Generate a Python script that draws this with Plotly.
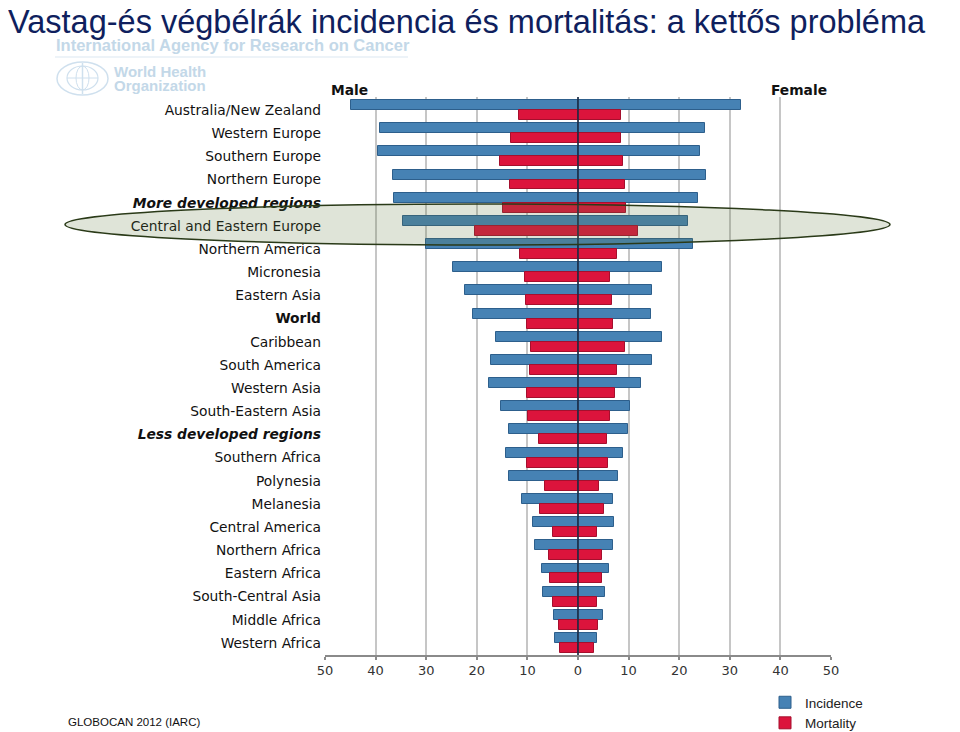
import plotly.graph_objects as go

# ---------------- data ----------------
categories = ["Australia/New Zealand", "Western Europe", "Southern Europe", "Northern Europe",
              "More developed regions", "Central and Eastern Europe", "Northern America",
              "Micronesia", "Eastern Asia", "World", "Caribbean", "South America",
              "Western Asia", "South-Eastern Asia", "Less developed regions", "Southern Africa",
              "Polynesia", "Melanesia", "Central America", "Northern Africa", "Eastern Africa",
              "South-Central Asia", "Middle Africa", "Western Africa"]
male_incidence = [44.9, 39.1, 39.6, 36.5, 36.3, 34.6, 30.0, 24.8, 22.4, 20.7, 16.3, 17.2,
                  17.6, 15.3, 13.7, 14.2, 13.7, 11.1, 8.8, 8.5, 7.2, 7.0, 4.8, 4.6]
female_incidence = [32.2, 25.1, 24.2, 25.3, 23.8, 21.8, 22.7, 16.6, 14.6, 14.4, 16.6, 14.6,
                    12.5, 10.3, 9.9, 8.8, 7.9, 7.0, 7.2, 7.0, 6.1, 5.3, 4.9, 3.8]
male_mortality = [11.7, 13.3, 15.4, 13.5, 14.8, 20.3, 11.4, 10.5, 10.3, 10.0, 9.2, 9.4,
                  10.1, 9.9, 7.8, 10.0, 6.5, 7.6, 5.0, 5.7, 5.5, 5.0, 3.8, 3.6]
female_mortality = [8.5, 8.4, 8.8, 9.2, 9.5, 11.9, 7.8, 6.4, 6.8, 7.0, 9.2, 7.7,
                    7.3, 6.4, 5.7, 5.9, 4.2, 5.1, 3.8, 4.7, 4.7, 3.8, 4.0, 3.2]
bold_italic = ["More developed regions", "Less developed regions"]
bold_only = ["World"]
x_tick_values = [-50, -40, -30, -20, -10, 0, 10, 20, 30, 40, 50]
x_tick_labels = ["50", "40", "30", "20", "10", "0", "10", "20", "30", "40", "50"]

title_text = "Vastag-és végbélrák incidencia és mortalitás: a kettős probléma"

# ---------------- layout geometry (pixels of the 960x732 page) ----------------
OFF = 8                      # default page body margin
PAGE_W, PAGE_H = 960, 732
W, H = PAGE_W - OFF, PAGE_H - OFF
PL, PR, PT, PB = 325, 831, 97, 655   # plot area in page pixels


def px(x):
    return (x - PL) / (PR - PL)


def py(y):
    return (PB - y) / (PB - PT)


idx = list(range(len(categories)))
ticktext = []
for c in categories:
    if c in bold_italic:
        ticktext.append("<b><i>" + c + "</i></b>")
    elif c in bold_only:
        ticktext.append("<b>" + c + "</b>")
    else:
        ticktext.append(c)

BLUE, BLUE_EDGE = "#4682b4", "#2d5f8c"
RED, RED_EDGE = "#dc143c", "#a50f2d"
BW = 0.43

fig = go.Figure()
fig.add_trace(go.Bar(
    name="Incidence", orientation="h",
    x=[-v for v in male_incidence] + female_incidence,
    y=idx + idx, offset=-BW, width=BW,
    marker=dict(color=BLUE, line=dict(color=BLUE_EDGE, width=1)),
    customdata=male_incidence + female_incidence,
    hovertemplate="%{customdata}<extra>Incidence</extra>",
))
fig.add_trace(go.Bar(
    name="Mortality", orientation="h",
    x=[-v for v in male_mortality] + female_mortality,
    y=idx + idx, offset=0, width=BW,
    marker=dict(color=RED, line=dict(color=RED_EDGE, width=1)),
    customdata=male_mortality + female_mortality,
    hovertemplate="%{customdata}<extra>Mortality</extra>",
))

pitch = (643 - 110) / 23.0
y_top = (PT - 110) / pitch
y_bot = (PB - 110) / pitch

shapes = []
shapes.append(dict(type="line", xref="x", yref="paper", x0=0, x1=0, y0=0, y1=1,
                   line=dict(color="#1b2b45", width=1.6), layer="above"))
shapes.append(dict(type="circle", xref="paper", yref="paper",
                   x0=px(65), x1=px(890), y0=py(245), y1=py(204),
                   fillcolor="rgba(95,120,60,0.2)",
                   line=dict(color="#2a3a18", width=1.5), layer="above"))
shapes.append(dict(type="line", xref="paper", yref="paper",
                   x0=px(55), x1=px(408), y0=py(57), y1=py(57),
                   line=dict(color="#dce8f1", width=1.2)))
LC = "#cfe0ee"
shapes.append(dict(type="circle", xref="paper", yref="paper",
                   x0=px(57), x1=px(108), y0=py(95), y1=py(62),
                   line=dict(color=LC, width=1.5)))
shapes.append(dict(type="circle", xref="paper", yref="paper",
                   x0=px(67), x1=px(98), y0=py(90), y1=py(66),
                   line=dict(color=LC, width=1.2)))
shapes.append(dict(type="circle", xref="paper", yref="paper",
                   x0=px(76), x1=px(89), y0=py(90), y1=py(66),
                   line=dict(color=LC, width=1)))
shapes.append(dict(type="line", xref="paper", yref="paper",
                   x0=px(67), x1=px(98), y0=py(78), y1=py(78),
                   line=dict(color=LC, width=1)))
shapes.append(dict(type="line", xref="paper", yref="paper",
                   x0=px(82.5), x1=px(82.5), y0=py(94), y1=py(63),
                   line=dict(color=LC, width=1.5)))

HEAD = "#c3d8e8"
annotations = [
    dict(text="<b>International Agency for Research on Cancer</b>", xref="paper", yref="paper",
         x=px(54), y=py(45), xanchor="left", yanchor="middle", showarrow=False,
         font=dict(family="Liberation Sans, Arial", size=16.5, color=HEAD)),
    dict(text="<b>World Health</b>", xref="paper", yref="paper",
         x=px(112), y=py(71.5), xanchor="left", yanchor="middle", showarrow=False,
         font=dict(family="Liberation Sans, Arial", size=15, color=HEAD)),
    dict(text="<b>Organization</b>", xref="paper", yref="paper",
         x=px(112), y=py(85.5), xanchor="left", yanchor="middle", showarrow=False,
         font=dict(family="Liberation Sans, Arial", size=15, color=HEAD)),
    dict(text="<b>Male</b>", xref="paper", yref="paper", x=px(329), y=py(90),
         xanchor="left", yanchor="middle", showarrow=False,
         font=dict(family="DejaVu Sans", size=13.8, color="#111111")),
    dict(text="<b>Female</b>", xref="paper", yref="paper", x=px(829), y=py(90),
         xanchor="right", yanchor="middle", showarrow=False,
         font=dict(family="DejaVu Sans", size=13.8, color="#111111")),
    dict(text="GLOBOCAN 2012 (IARC)", xref="paper", yref="paper", x=px(66), y=py(722),
         xanchor="left", yanchor="middle", showarrow=False,
         font=dict(family="Liberation Sans Narrow, Liberation Sans, Arial", size=11.5,
                   color="#111111")),
]

fig.update_layout(
    width=W, height=H,
    margin=dict(l=PL - OFF, r=PAGE_W - PR, t=PT - OFF, b=PAGE_H - PB, pad=0,
                autoexpand=False),
    paper_bgcolor="white", plot_bgcolor="white",
    barmode="overlay", bargap=0,
    title=dict(text=title_text, x=0, xref="container",
               xanchor="left", y=0.997, yref="container", yanchor="top",
               font=dict(family="Liberation Sans, Arial", size=32.5, color="#0f1f5e"),
               pad=dict(t=0, l=0)),
    xaxis=dict(range=[-50, 50], tickvals=x_tick_values, ticktext=x_tick_labels,
               showgrid=True, gridcolor="#c6c6c6", gridwidth=1.5, zeroline=False,
               showline=True, linecolor="#8a8a8a", linewidth=1.5,
               ticks="outside", ticklen=3, tickcolor="#8a8a8a", tickwidth=1.5,
               tickfont=dict(family="DejaVu Sans", size=13, color="#333333"),
               fixedrange=True),
    yaxis=dict(range=[y_bot, y_top], tickvals=idx, ticktext=ticktext,
               showgrid=False, zeroline=False, showline=False, ticks="",
               tickfont=dict(family="DejaVu Sans", size=13.8, color="#111111"),
               ticklabelstandoff=3, fixedrange=True),
    legend=dict(x=px(765), y=py(687), xanchor="left", yanchor="top",
                bgcolor="rgba(0,0,0,0)", tracegroupgap=0,
                font=dict(family="Liberation Sans, Arial", size=13.5, color="#222222")),
    shapes=shapes, annotations=annotations,
    showlegend=True,
)

fig.write_html("out.html")
